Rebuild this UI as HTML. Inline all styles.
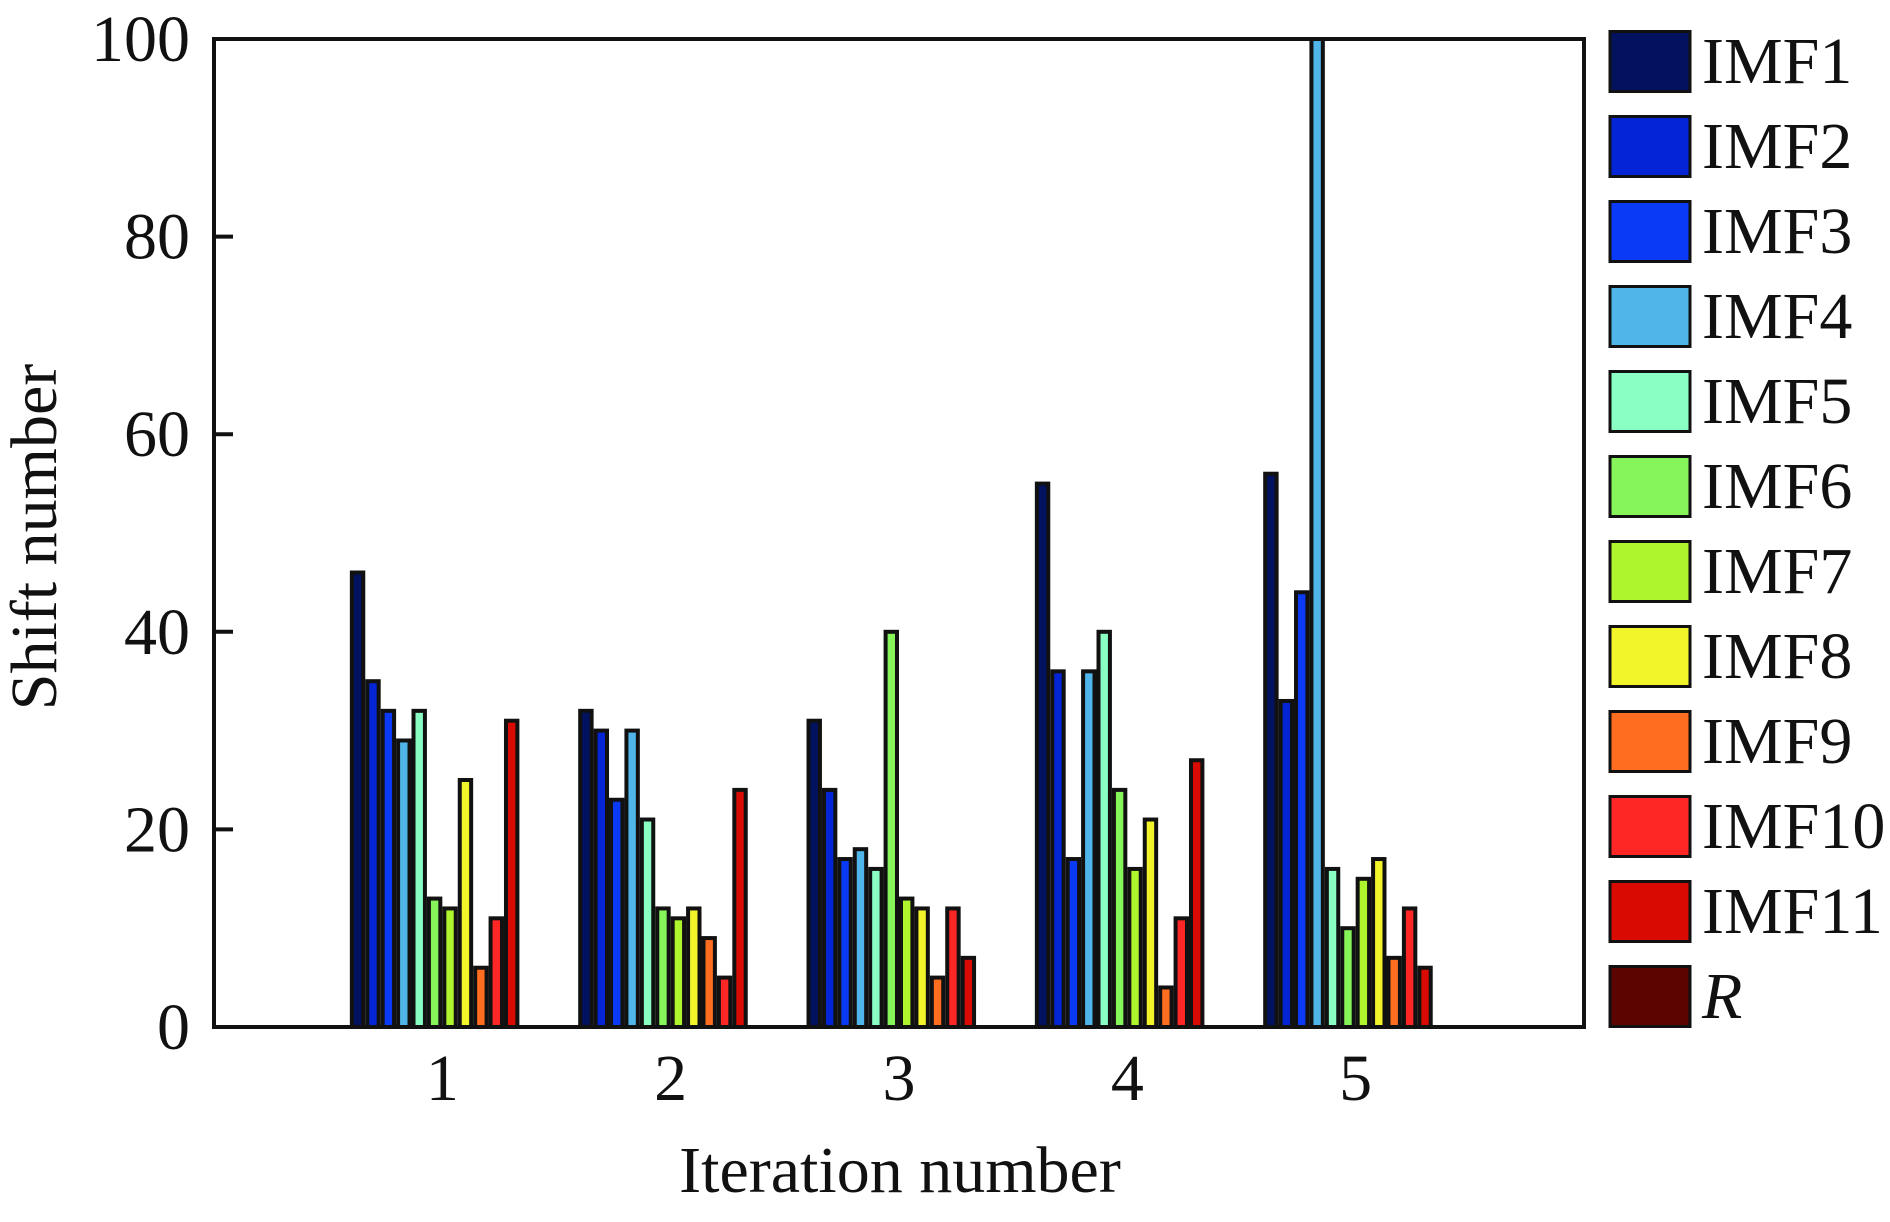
<!DOCTYPE html>
<html><head><meta charset="utf-8"><style>
body{margin:0;background:#fff}
svg text{font-family:"Liberation Serif",serif;fill:#111}
</style></head><body>
<svg id="chart" width="1890" height="1217" xmlns="http://www.w3.org/2000/svg">
<g id="bars"></g>
<g id="axes"></g>
<g id="legend"></g>
</svg>
<script>
const categories = ["1","2","3","4","5"];
const seriesNames = ["IMF1","IMF2","IMF3","IMF4","IMF5","IMF6","IMF7","IMF8","IMF9","IMF10","IMF11","R"];
const colors = ["#02125e","#0425d6","#0a3af5","#50b5e8","#8affc4","#86f55a","#aef52e","#f2f52a","#ff6d20","#ff2626","#d80a02","#5c0400"];
const iter1 = [46,35,32,29,32,13,12,25,6,11,31,0];
const iter2 = [32,30,23,30,21,12,11,12,9,5,24,0];
const iter3 = [31,24,17,18,16,40,13,12,5,12,7,0];
const iter4 = [55,36,17,36,40,24,16,21,4,11,27,0];
const iter5 = [56,33,44,100,16,10,15,17,7,12,6,0];
const groups = [iter1,iter2,iter3,iter4,iter5];
const yTicks = [0,20,40,60,80,100];

const NS="http://www.w3.org/2000/svg";
const L=214,R=1584,T=39,B=1027;
const x=v=>L+(R-L)*v/6;
const y=v=>B-(B-T)*v/100;
function mk(tag,attrs,parent){const e=document.createElementNS(NS,tag);for(const k in attrs)e.setAttribute(k,attrs[k]);parent.appendChild(e);return e;}
const bars=document.getElementById('bars'),axes=document.getElementById('axes'),legend=document.getElementById('legend');
const groupW=(x(1)-x(0))*0.81, bw=groupW/seriesNames.length;
groups.forEach((vals,gi)=>{
  const x0=x(gi+1)-groupW/2;
  vals.forEach((v,si)=>{
    if(v<=0)return;
    const r=mk('rect',{x:x0+si*bw+2,y:y(v),width:bw-4,height:B-y(v),fill:colors[si],stroke:'#111','stroke-width':4},bars);
    
    
  });
});
const frame=mk('rect',{x:L,y:T,width:R-L,height:B-T,fill:'none',stroke:'#111','stroke-width':4},axes);


yTicks.forEach(t=>{
  const ln=mk('line',{x1:L,x2:L+19,y1:y(t),y2:y(t),stroke:'#111','stroke-width':4},axes);
  
  
  const tx=mk('text',{x:190,y:y(t)+22,'text-anchor':'end','font-size':66},axes);
  tx.textContent=t;
  
  
});
categories.forEach((c,i)=>{
  const tx=mk('text',{x:x(i+1),y:1100,'text-anchor':'middle','font-size':66},axes);
  tx.textContent=c;
  
  
});
const xt=mk('text',{x:900,y:1192,'text-anchor':'middle','font-size':66},axes);
xt.textContent='Iteration number';


const yt=mk('text',{x:0,y:0,'text-anchor':'middle','font-size':66,transform:'translate(56,537) rotate(-90)'},axes);
yt.textContent='Shift number';


seriesNames.forEach((n,i)=>{
  const top=30+i*85;
  const r=mk('rect',{x:1610,y:top+1.5,width:80,height:60,fill:colors[i],stroke:'#111','stroke-width':3},legend);
  
  
  const tx=mk('text',{x:1702,y:top+53,'font-size':66},legend);
  if(n==='R')tx.setAttribute('font-style','italic');
  tx.textContent=n;
  
  
});
</script>
</body></html>
